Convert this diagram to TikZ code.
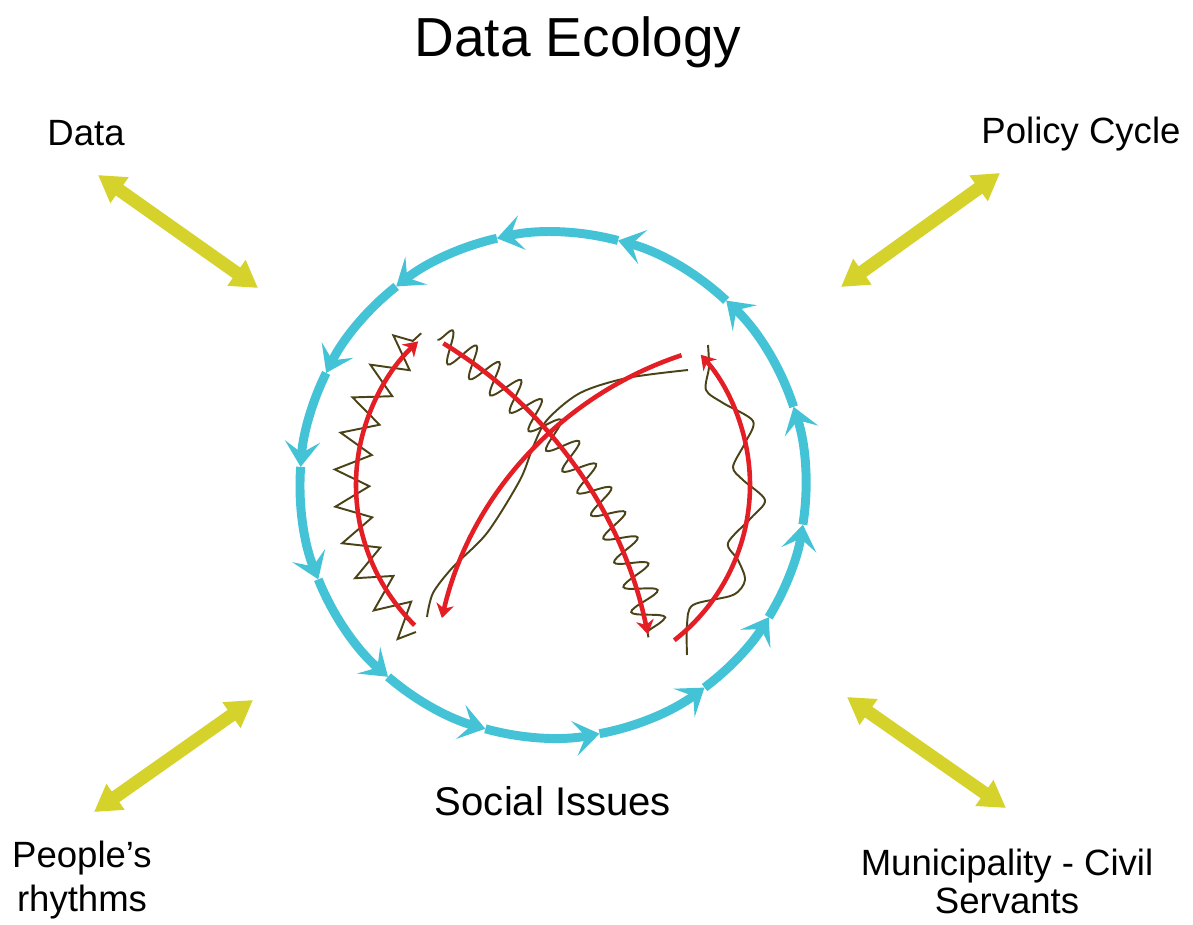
\documentclass[tikz,border=0pt]{standalone}
\usepackage{fontspec}
\setmainfont{Liberation Sans}
\usetikzlibrary{arrows.meta,decorations.pathmorphing}
\definecolor{ringblue}{HTML}{45C3D6}
\definecolor{flowred}{HTML}{E31E24}
\definecolor{linkyellow}{HTML}{D5D22B}
\definecolor{traceolive}{HTML}{4B4318}

\begin{document}
\begin{tikzpicture}[x=0.02cm, y=0.02cm,
  ring/.style={ringblue, line width=5.1pt, -{Stealth[length=14.5pt, width=20pt, inset=6.5pt]}},
  flow/.style={flowred, line width=2.6pt, -{Stealth[length=8pt, width=10pt, inset=2.5pt]}},
  link/.style={linkyellow, line width=7.4pt, {Triangle[length=15pt, width=17pt]}-{Triangle[length=15pt, width=17pt]}},
  trace/.style={traceolive, line width=1.1pt},
  every node/.style={font=\fontsize{20.8}{25}\selectfont, inner sep=0pt}]
  \useasboundingbox (-553,-439) rectangle (640,485);

  % title and labels
  \node[anchor=base, font=\fontsize{31.3}{36}\selectfont] (title) at (25,428) {Data Ecology};
  \node[anchor=base] (data) at (-467,340) {Data};
  \node[anchor=base] (policy) at (528,342) {Policy Cycle};
  \node[anchor=base, font=\fontsize{22.8}{27}\selectfont] (social) at (0,-330) {Social Issues};
  % base anchor sits on the last line
  \node[anchor=base, align=center, font=\fontsize{20.8}{25}\selectfont] (people) at (-471,-426) {People’s\\rhythms};
  \node[anchor=base, align=center, font=\fontsize{20.8}{21.6}\selectfont] (civil) at (454,-428) {Municipality - Civil\\Servants};

  % yellow links to the four sides
  \coordinate (data1) at (-455,310);
  \coordinate (data2) at (-295,197);
  \coordinate (policy1) at (447,312);
  \coordinate (policy2) at (288,198);
  \coordinate (people1) at (-459,-327);
  \coordinate (people2) at (-300,-215);
  \coordinate (civil1) at (294,-212);
  \coordinate (civil2) at (453,-323);
  \draw[link] (data1) -- (data2);
  \draw[link] (policy2) -- (policy1);
  \draw[link] (people1) -- (people2);
  \draw[link] (civil1) -- (civil2);

  % the cycle, counter clockwise
  \draw[ring] (-9:253) arc[start angle=-9, end angle=18, radius=253];
  \draw[ring] (18:253) arc[start angle=18, end angle=46.8, radius=253];
  \draw[ring] (46.8:253) arc[start angle=46.8, end angle=75.1, radius=253];
  \draw[ring] (75.1:253) arc[start angle=75.1, end angle=102.8, radius=253];
  \draw[ring] (102.8:253) arc[start angle=102.8, end angle=128.3, radius=253];
  \draw[ring] (128.3:253) arc[start angle=128.3, end angle=153.7, radius=253];
  \draw[ring] (153.7:253) arc[start angle=153.7, end angle=175.9, radius=253];
  \draw[ring] (175.9:253) arc[start angle=175.9, end angle=201.9, radius=253];
  \draw[ring] (201.9:253) arc[start angle=201.9, end angle=229.3, radius=253];
  \draw[ring] (229.3:253) arc[start angle=229.3, end angle=254.5, radius=253];
  \draw[ring] (254.5:253) arc[start angle=254.5, end angle=280.6, radius=253];
  \draw[ring] (280.6:253) arc[start angle=280.6, end angle=306.8, radius=253];
  \draw[ring] (306.8:253) arc[start angle=306.8, end angle=328.5, radius=253];
  \draw[ring] (328.5:253) arc[start angle=328.5, end angle=351, radius=253];

  % olive traces
  \draw[trace, decorate, decoration={zigzag, segment length=19.5pt, amplitude=10pt}]
    (227:201) arc[start angle=227, end angle=131, radius=201];
  \draw[trace, decorate, decoration={snake, segment length=15.5pt, amplitude=9pt}, shift={(-342,-239)}]
    (59.5:446) arc[start angle=59.5, end angle=11.2, radius=446];
  \draw[trace] plot[smooth] coordinates {(135,115) (74,107) (27,92) (-6,65) (-20,38)
    (-33,5) (-66,-48) (-100,-82) (-120,-108) (-126,-132)};
  \draw[trace] plot[smooth] coordinates {(155,140) (156,118) (153,95) (170,82) (200,64)
    (192,42) (180,18) (190,5) (212,-15) (198,-33) (175,-58) (185,-75) (192,-95)
    (180,-110) (140,-120) (134,-140) (134,-170)};

  % red flows
  \draw[flow] (225.4:197) arc[start angle=225.4, end angle=133.2, radius=197];
  \draw[flow] (-52:197) arc[start angle=-52, end angle=41.4, radius=197];
  \draw[flow, shift={(-342,-239)}] (58.6:446) arc[start angle=58.6, end angle=11.6, radius=446];
  \draw[flow, shift={(243.4,-215.6)}] (108.4:364) arc[start angle=108.4, end angle=166.9, radius=364];
\end{tikzpicture}
\end{document}
